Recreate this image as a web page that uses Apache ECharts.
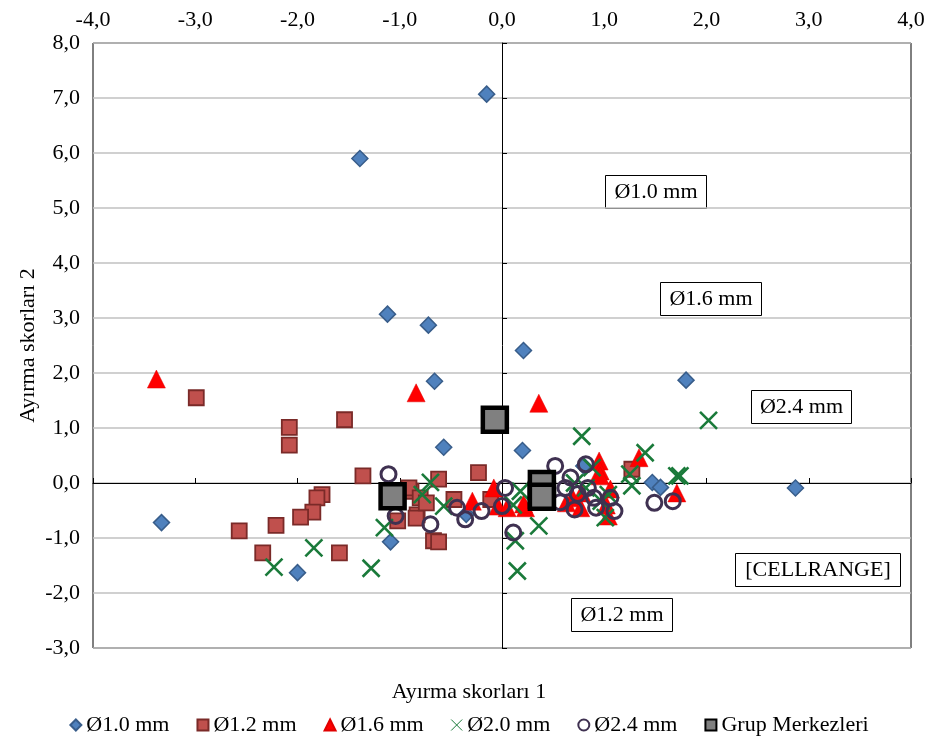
<!DOCTYPE html>
<html>
<head>
<meta charset="utf-8">
<script src="https://cdn.jsdelivr.net/npm/echarts@6/dist/echarts.min.js"></script>
<style>
html,body{margin:0;padding:0;background:#fff;}
#chart{width:938px;height:745px;}
</style>
</head>
<body>
<div id="chart"></div>
<script>
// ---- data ----
const xTicks = [-4, -3, -2, -1, 0, 1, 2, 3, 4];
const yTicks = [-3, -2, -1, 0, 1, 2, 3, 4, 5, 6, 7, 8];
const seriesNames = ['Ø1.0 mm', 'Ø1.2 mm', 'Ø1.6 mm', 'Ø2.0 mm', 'Ø2.4 mm', 'Grup Merkezleri'];

const d10 = [[-0.15,7.07],[-1.39,5.90],[-1.12,3.07],[-0.72,2.87],[0.21,2.41],[-0.66,1.85],[-0.57,0.65],[0.20,0.59],
  [1.80,1.87],[-3.33,-0.72],[-2.00,-1.63],[-1.09,-1.07],[2.87,-0.09],[1.47,0.01],[1.55,-0.08],[0.80,0.31],[-0.35,-0.57]];
const d12 = [[-2.99,1.55],[-2.08,1.01],[-2.08,0.69],[-1.54,1.15],[-1.36,0.13],[-1.76,-0.21],[-1.81,-0.27],[-1.85,-0.53],
  [-1.97,-0.62],[-2.21,-0.77],[-2.57,-0.87],[-2.34,-1.27],[-1.59,-1.27],[-0.23,0.19],[-0.62,0.07],[-0.89,-0.15],
  [-0.91,-0.09],[-0.80,-0.27],[-0.83,-0.58],[-0.84,-0.64],[-0.74,-0.36],[-0.47,-0.30],[-0.11,-0.30],[-1.02,-0.69],
  [-0.67,-1.05],[-0.62,-1.07],[1.27,0.25]];
const d16 = [[-3.38,1.89],[-0.84,1.64],[0.36,1.45],[-0.29,-0.33],[-0.08,-0.09],[-0.04,-0.42],[0.05,-0.45],[0.23,-0.45],
  [0.21,-0.38],[0.95,0.40],[0.96,0.22],[0.96,0.13],[1.34,0.46],[1.04,-0.60],[1.06,-0.11],[1.71,-0.18],[0.69,-0.27],
  [0.78,-0.18],[0.63,-0.36],[1.02,-0.40],[0.77,-0.45]];
const d20 = [[-1.84,-1.18],[-2.23,-1.53],[-1.28,-1.55],[-1.15,-0.81],[-0.70,0.01],[-0.78,-0.21],[-0.57,-0.42],[0.13,-1.05],
  [0.15,-1.60],[0.18,-0.15],[0.36,-0.78],[0.78,0.85],[1.40,0.55],[1.25,0.16],[1.27,-0.05],[1.71,0.13],[1.74,0.13],
  [2.02,1.14],[0.88,0.28],[0.71,0.00],[0.82,-0.09],[0.97,-0.33],[1.04,-0.21],[1.01,-0.63],[0.11,-0.40]];
const d24 = [[-1.11,0.16],[-1.04,-0.60],[-0.70,-0.75],[-0.44,-0.45],[-0.36,-0.66],[-0.20,-0.51],[0.03,-0.09],[0.00,-0.42],
  [0.11,-0.90],[0.52,0.31],[0.82,0.34],[0.62,-0.09],[0.67,0.10],[0.74,-0.20],[0.84,-0.09],[0.90,-0.27],[0.71,-0.48],
  [0.92,-0.45],[1.10,-0.51],[1.06,-0.27],[1.49,-0.36],[1.67,-0.33],[0.57,-0.35]];
const centers = [[-0.07,1.15],[-1.07,-0.24],[0.39,-0.22],[0.39,-0.02],[0.39,-0.25]];

const labelBoxes = ['Ø1.0 mm', 'Ø1.6 mm', 'Ø2.4 mm', '[CELLRANGE]', 'Ø1.2 mm'];

// ---- chart ----
const FONT = 'Liberation Serif, Times New Roman, serif';
const fmt = v => v.toFixed(1).replace('.', ',');
const xPath = 'path://M0,0 L10,10 M10,0 L0,10';

const chart = echarts.init(document.getElementById('chart'));

function box(text, x, y, w, h) {
  return {
    type: 'group', left: x, top: y, z: 100,
    children: [
      { type: 'rect', shape: { x: 0, y: 0, width: w, height: h },
        style: { fill: '#fff', stroke: '#000', lineWidth: 1 } },
      { type: 'text', x: w / 2, y: h / 2,
        style: { text: text, font: '22px ' + FONT, fill: '#000', align: 'center', verticalAlign: 'middle' } }
    ]
  };
}

const option = {
  animation: false,
  backgroundColor: '#fff',
  grid: { left: 93, right: 27, top: 43, bottom: 97, show: true, borderColor: '#000', borderWidth: 1, backgroundColor: 'transparent' },
  xAxis: [
    { type: 'value', position: 'top', min: xTicks[0], max: xTicks[xTicks.length - 1], interval: 1,
      axisLine: { show: false, onZero: false }, axisTick: { show: false }, splitLine: { show: false },
      axisLabel: { formatter: fmt, fontFamily: FONT, fontSize: 22, color: '#000', margin: 12 } },
    { type: 'value', position: 'bottom', min: xTicks[0], max: xTicks[xTicks.length - 1], interval: 1,
      axisLine: { show: true, onZero: true, onZeroAxisIndex: 0, lineStyle: { color: '#000', width: 1 } },
      axisTick: { show: true, inside: true, length: 5, lineStyle: { color: '#000' } },
      axisLabel: { show: false }, splitLine: { show: false } }
  ],
  yAxis: [
    { type: 'value', position: 'left', min: yTicks[0], max: yTicks[yTicks.length - 1], interval: 1,
      axisLine: { show: false, onZero: false }, axisTick: { show: false },
      splitLine: { show: true, lineStyle: { color: '#c0c0c0', width: 1.5 } },
      axisLabel: { formatter: fmt, fontFamily: FONT, fontSize: 22, color: '#000', margin: 13 },
      name: 'Ayırma skorları 2', nameLocation: 'middle', nameGap: 54, nameRotate: 90, nameMoveOverlap: false,
      nameTextStyle: { fontFamily: FONT, fontSize: 22, color: '#000' } },
    { type: 'value', position: 'left', min: yTicks[0], max: yTicks[yTicks.length - 1], interval: 1,
      axisLine: { show: true, onZero: true, onZeroAxisIndex: 0, lineStyle: { color: '#000', width: 1 } },
      axisTick: { show: true, inside: true, length: 5, lineStyle: { color: '#000' } },
      axisLabel: { show: false }, splitLine: { show: false } }
  ],
  legend: {
    bottom: 4, left: 'center', itemWidth: 11, itemHeight: 11, itemGap: 27,
    textStyle: { fontFamily: FONT, fontSize: 22, color: '#000' },
    data: [
      { name: seriesNames[0] },
      { name: seriesNames[1] },
      { name: seriesNames[2] },
      { name: seriesNames[3], itemStyle: { borderWidth: 1 } },
      { name: seriesNames[4], itemStyle: { borderWidth: 2 } },
      { name: seriesNames[5], itemStyle: { borderWidth: 2 } }
    ]
  },
  graphic: [
    { type: 'text', left: 'center', top: 681,
      style: { text: 'Ayırma skorları 1', font: '22px ' + FONT, fill: '#000' } },
    box(labelBoxes[0], 605, 175, 101, 33),
    box(labelBoxes[1], 660, 282, 101, 33),
    box(labelBoxes[2], 751, 390, 100, 33),
    box(labelBoxes[3], 735, 553, 165, 33),
    box(labelBoxes[4], 571, 598, 101, 33)
  ],
  series: [
    { name: seriesNames[0], type: 'scatter', data: d10, symbol: 'diamond', symbolSize: 16,
      itemStyle: { color: '#4f81bd', borderColor: '#385d8a', borderWidth: 1.5, opacity: 1 } },
    { name: seriesNames[1], type: 'scatter', data: d12, symbol: 'rect', symbolSize: 15,
      itemStyle: { color: '#c0504d', borderColor: '#7a2a28', borderWidth: 1.8, opacity: 1 } },
    { name: seriesNames[2], type: 'scatter', data: d16, symbol: 'triangle', symbolSize: 18,
      itemStyle: { color: '#ff0000', borderColor: '#e00000', borderWidth: 0.5, opacity: 1 } },
    { name: seriesNames[3], type: 'scatter', data: d20, symbol: xPath, symbolSize: 17,
      itemStyle: { color: 'rgba(0,0,0,0)', borderColor: '#1a7a3a', borderWidth: 2.6, opacity: 1 } },
    { name: seriesNames[4], type: 'scatter', data: d24, symbol: 'circle', symbolSize: 15,
      itemStyle: { color: 'rgba(255,255,255,0)', borderColor: '#3f3151', borderWidth: 3, opacity: 1 } },
    { name: seriesNames[5], type: 'scatter', data: centers, symbol: 'rect', symbolSize: 24,
      itemStyle: { color: '#808080', borderColor: '#000', borderWidth: 4.5, opacity: 1 } }
  ]
};
chart.setOption(option);
</script>
</body>
</html>
